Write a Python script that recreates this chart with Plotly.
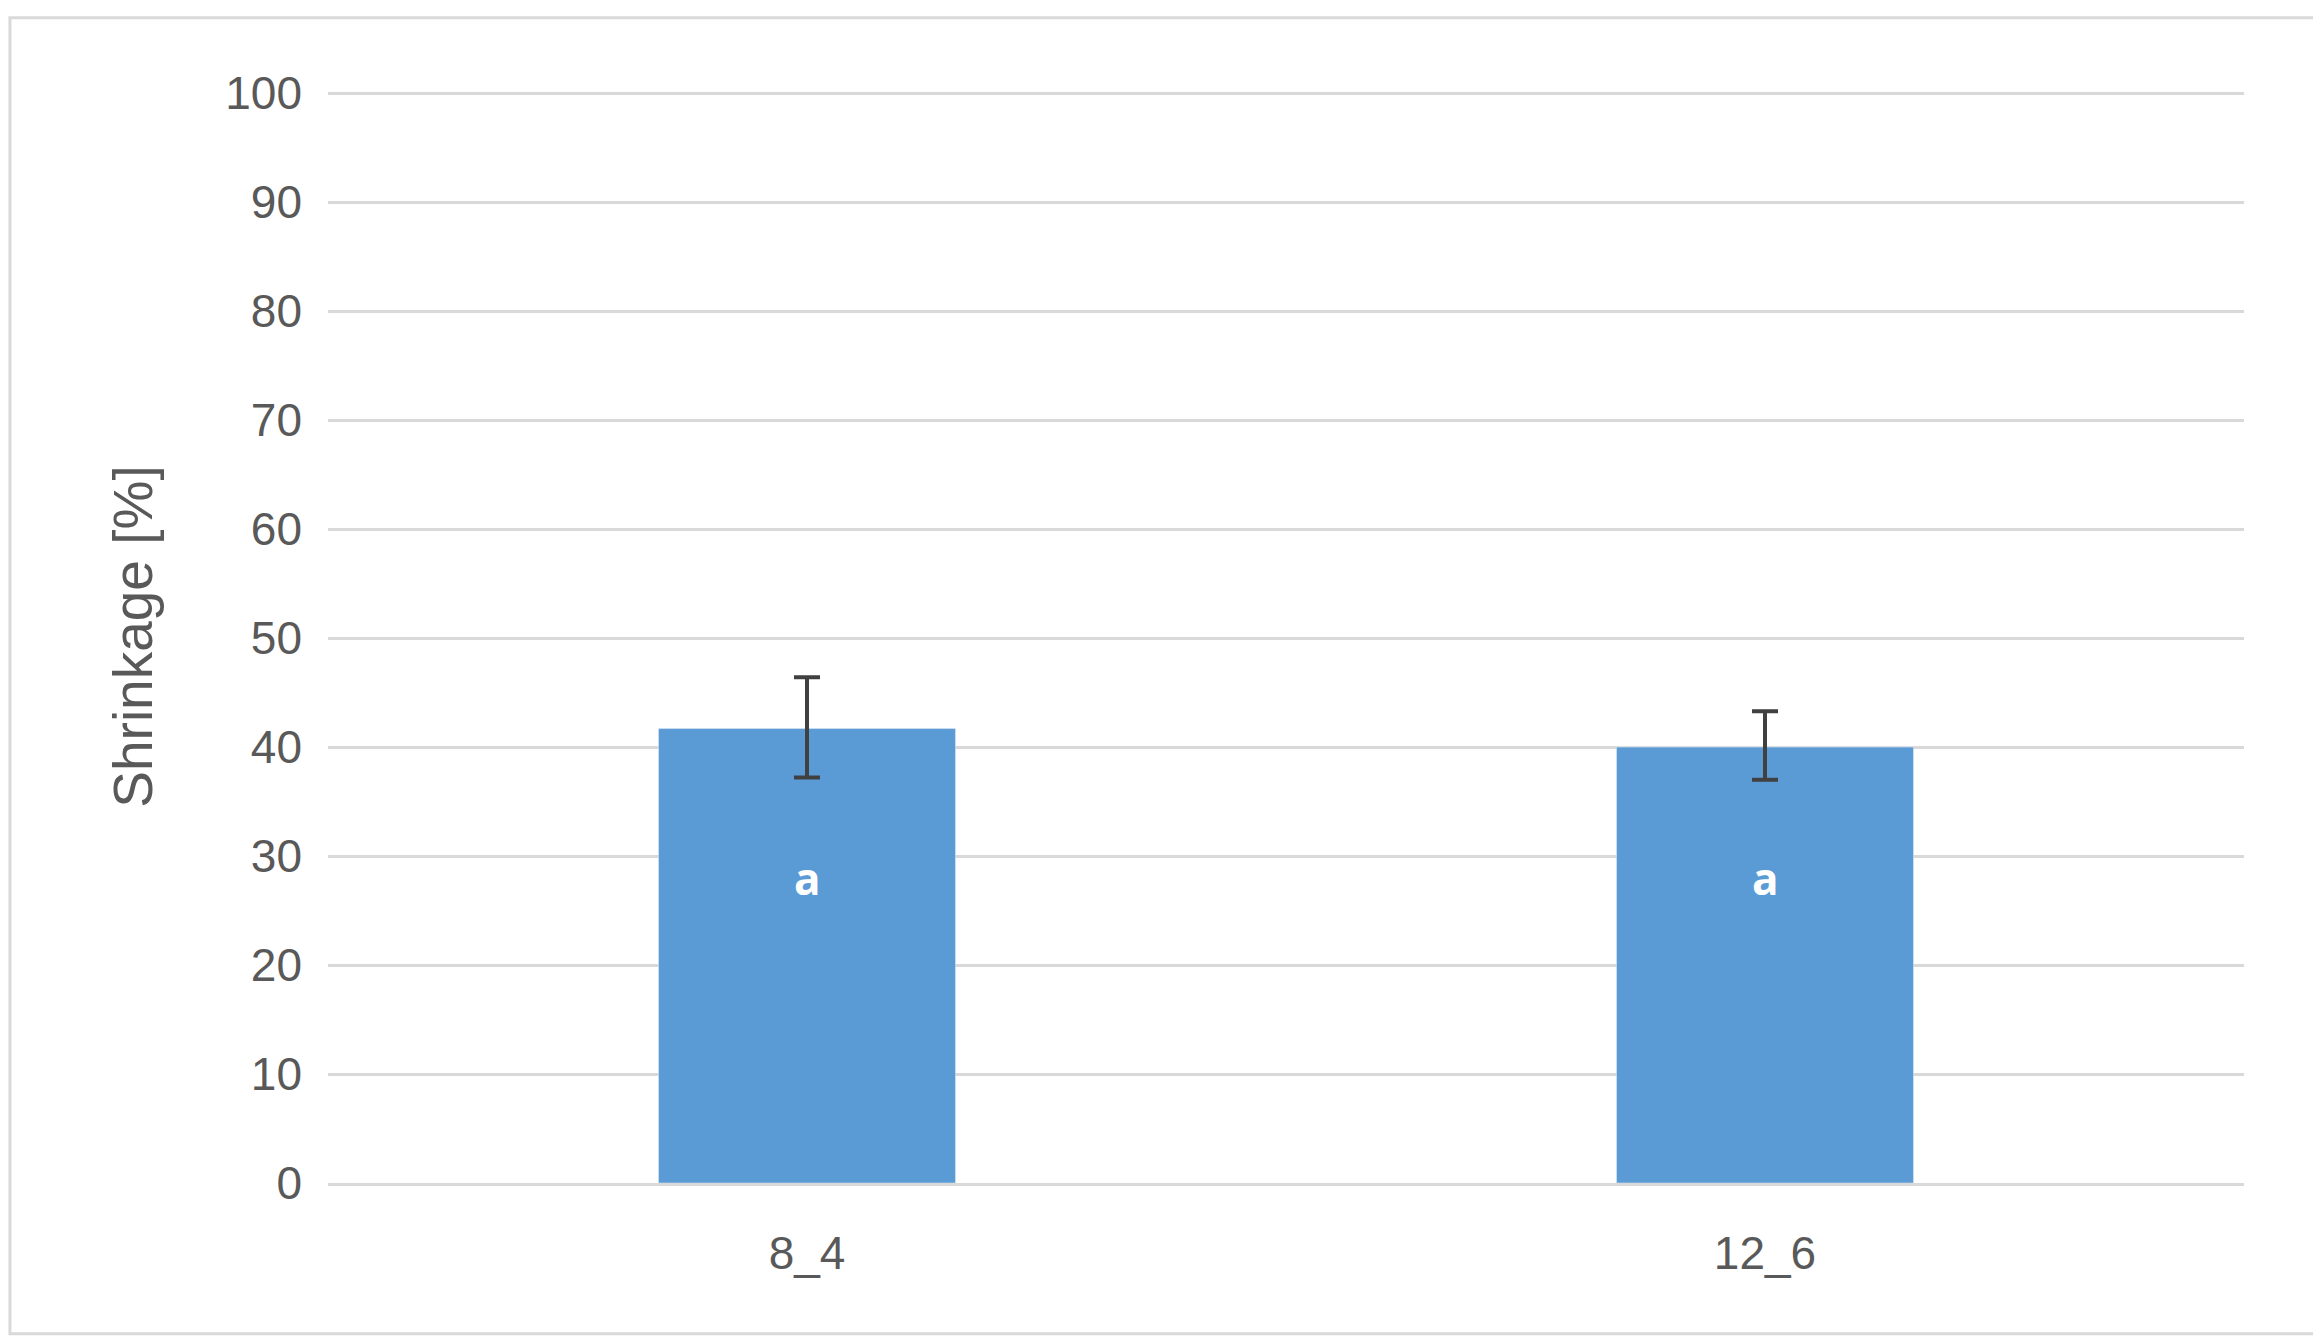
import plotly.graph_objects as go

categories = ["8_4", "12_6"]
values = [41.7, 40.0]
err_plus = [4.7, 3.3]
err_minus = [4.5, 3.0]
letters = ["a", "a"]
label_y = [28, 28]

fig = go.Figure(go.Bar(
    x=categories, y=values, width=0.31, marker_color="#5B9BD5",
    error_y=dict(type="data", array=err_plus, arrayminus=err_minus, symmetric=False,
                 color="#404040", thickness=4, width=13),
))
for c, l, ly in zip(categories, letters, label_y):
    fig.add_annotation(x=c, y=ly, text="<b>"+l+"</b>", showarrow=False,
                       font=dict(color="white", size=44, family="Open Sans"))
fig.add_shape(type="rect", xref="paper", yref="paper", x0=-0.166, x1=1.038, y0=-0.138, y1=1.066,
              line=dict(color="#D9D9D9", width=3))
fig.update_layout(
    width=2321, height=1341, paper_bgcolor="white", plot_bgcolor="white",
    margin=dict(l=320, r=85, t=82, b=166), showlegend=False,
    font=dict(family="Liberation Sans", color="#595959", size=46),
    yaxis=dict(range=[0, 100.3], dtick=10, gridcolor="#D9D9D9", gridwidth=3, zeroline=False,
               title=dict(text="Shrinkage [%]", standoff=55), ticks="", ticklabelstandoff=25),
    xaxis=dict(showline=True, linecolor="#D9D9D9", linewidth=3, ticks="", ticklabelstandoff=28),
)
fig.write_html("out.html")
